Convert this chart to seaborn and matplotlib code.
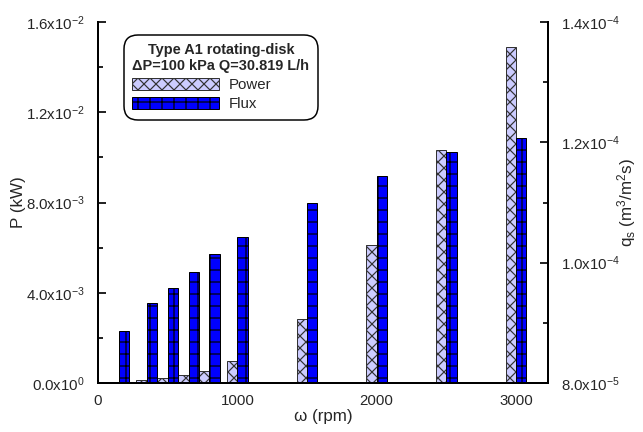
import matplotlib
matplotlib.use("Agg")
import matplotlib.pyplot as plt
from matplotlib.patches import Patch
from matplotlib.ticker import MultipleLocator
import seaborn as sns
import pandas as pd

# ---- data ----
rpm = [150, 350, 500, 650, 800, 1000, 1500, 2000, 2500, 3000]
power_kw = [0.00004, 0.00012, 0.00021, 0.00035, 0.00055, 0.00096,
            0.00282, 0.00612, 0.01033, 0.01491]
flux_qs = [8.864e-5, 9.335e-5, 9.574e-5, 9.85e-5, 1.014e-4, 1.043e-4,
           1.100e-4, 1.144e-4, 1.184e-4, 1.208e-4]

x_ticks = [0, 1000, 2000, 3000]
x_ticklabels = ["0", "1000", "2000", "3000"]
left_ticks = [0.0, 0.004, 0.008, 0.012, 0.016]
left_ticklabels = [r"0.0x10$^{0}$", r"4.0x10$^{-3}$", r"8.0x10$^{-3}$",
                   r"1.2x10$^{-2}$", r"1.6x10$^{-2}$"]
right_ticks = [8e-5, 1.0e-4, 1.2e-4, 1.4e-4]
right_ticklabels = [r"8.0x10$^{-5}$", r"1.0x10$^{-4}$", r"1.2x10$^{-4}$",
                    r"1.4x10$^{-4}$"]

legend_title = "Type A1 rotating-disk\n\u0394P=100 kPa Q=30.819 L/h"
series_names = ["Power", "Flux"]

power_color = "#CCCCFF"
flux_color = "#0000FF"
bar_w = 75.0  # rpm

# ---- style ----
sns.set_style("white")
plt.rcParams["font.family"] = ["Liberation Sans", "DejaVu Sans"]
plt.rcParams["mathtext.fontset"] = "custom"
plt.rcParams["mathtext.rm"] = "Liberation Sans"
plt.rcParams["mathtext.it"] = "Liberation Sans:italic"
plt.rcParams["mathtext.bf"] = "Liberation Sans:bold"
plt.rcParams["hatch.linewidth"] = 1.2
plt.rcParams["hatch.color"] = "black"

fig = plt.figure(figsize=(643 / 72, 432 / 72), dpi=72)
ax = fig.add_axes([0.1524, 0.1134, 0.6999, 0.8356])
ax2 = ax.twinx()

df_p = pd.DataFrame({"x": [r - bar_w / 2 for r in rpm], "y": power_kw})
df_f = pd.DataFrame({"x": [r + bar_w / 2 for r in rpm], "y": flux_qs})

sns.barplot(data=df_p, x="x", y="y", ax=ax, native_scale=True, orient="x",
            width=0.5, color=power_color, saturation=1, errorbar=None,
            edgecolor="#333333", linewidth=1.0)
sns.barplot(data=df_f, x="x", y="y", ax=ax2, native_scale=True, orient="x",
            width=0.5, color=flux_color, saturation=1, errorbar=None,
            edgecolor="black", linewidth=1.0)


def style_bars(axis, hatch):
    for p in axis.patches:
        p.set_hatch(hatch)


style_bars(ax, "xx")
style_bars(ax2, "+")

ax.set_xlim(0, 3230)
ax.set_ylim(0, 0.016)
ax2.set_ylim(8e-5, 1.4e-4)

ax.set_xticks(x_ticks)
ax.set_xticklabels(x_ticklabels)
ax.set_yticks(left_ticks)
ax.set_yticklabels(left_ticklabels)
ax.yaxis.set_minor_locator(MultipleLocator(0.002))
ax2.set_yticks(right_ticks)
ax2.set_yticklabels(right_ticklabels)
ax2.yaxis.set_minor_locator(MultipleLocator(1e-5))

for a in (ax, ax2):
    for s in a.spines.values():
        s.set_linewidth(2.0)
        s.set_color("black")
    a.spines["top"].set_visible(False)
ax2.spines["left"].set_visible(False)
ax.spines["right"].set_visible(False)

tick_fs = 15
ax.tick_params(axis="x", length=0, labelsize=tick_fs, pad=11)
ax.tick_params(axis="y", which="major", direction="in", length=8, width=2,
               labelsize=tick_fs, pad=13, left=True, right=False)
ax.tick_params(axis="y", which="minor", direction="in", length=5, width=2,
               left=True, right=False)
ax2.tick_params(axis="y", which="major", direction="in", length=8, width=2,
                labelsize=tick_fs, pad=13, right=True, left=False)
ax2.tick_params(axis="y", which="minor", direction="in", length=5, width=2,
                right=True, left=False)

ax.set_xlabel("\u03c9 (rpm)", fontsize=17, labelpad=1)
ax.set_ylabel("P (kW)", fontsize=17)
ax2.set_ylabel(r"q$_\mathrm{s}$ (m$^3$/m$^2$s)", fontsize=17)
ax.yaxis.set_label_coords(-0.16, 0.5)
ax2.yaxis.set_label_coords(1.148, 0.5)

handles = [Patch(facecolor=power_color, edgecolor="#333333", hatch="xx"),
           Patch(facecolor=flux_color, edgecolor="black", hatch="+")]
leg = ax2.legend(handles, series_names, title=legend_title,
                 title_fontproperties={"weight": "bold", "size": 14.5,
                                       "family": ["Liberation Sans", "DejaVu Sans"]},
                 fontsize=15, loc="upper left",
                 bbox_to_anchor=(0.058, 0.964), borderaxespad=0,
                 handlelength=5.8, handleheight=0.9, handletextpad=0.6,
                 labelspacing=0.3, borderpad=0.55, frameon=True,
                 fancybox=True, framealpha=1)
leg.get_frame().set_edgecolor("black")
leg.get_frame().set_linewidth(1.5)
leg.get_frame().set_boxstyle("round", pad=0.0, rounding_size=0.9)
leg._legend_box.align = "left"
leg.get_title().set_multialignment("center")

fig.savefig("out.png", dpi=72)
